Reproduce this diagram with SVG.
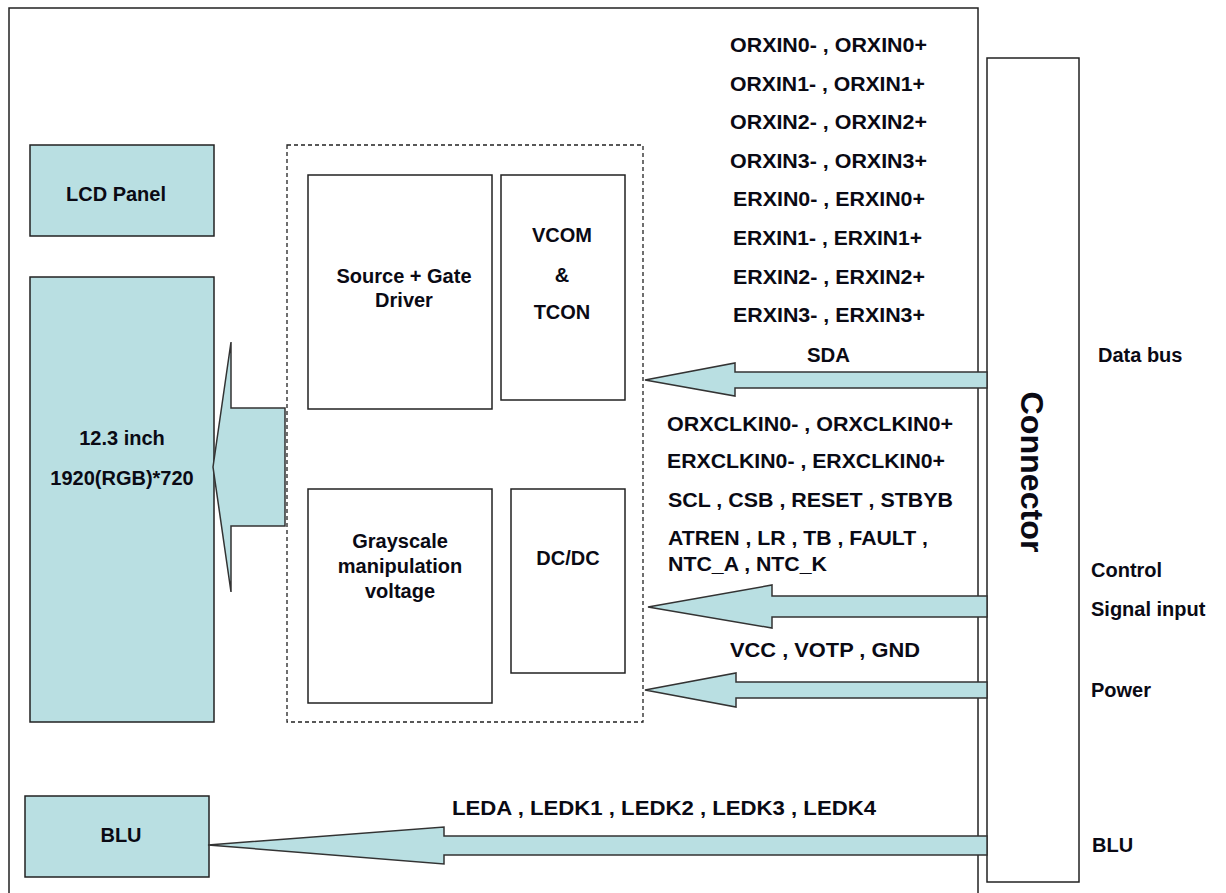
<svg xmlns="http://www.w3.org/2000/svg" width="1226" height="893" viewBox="0 0 1226 893">
<style>
.blk{fill:#b9dfe2;stroke:#222;stroke-width:1.5}
.box{fill:#fff;stroke:#222;stroke-width:1.5}
.arr{fill:#b9dfe2;stroke:#333;stroke-width:1.5;stroke-linejoin:miter}
text{font-family:"Liberation Sans",Arial,sans-serif;font-weight:bold;fill:#0a0a14}
.n{font-size:20px;text-anchor:middle}
.s{font-size:20px}
</style>
<rect x="9" y="8" width="969" height="900" fill="#fff" stroke="#222" stroke-width="1.5"/>
<g id="lcd-panel"><rect class="blk" x="30" y="145" width="184" height="91"/><text class="n" x="116" y="201">LCD Panel</text></g>
<g id="display"><rect class="blk" x="30" y="277" width="184" height="445"/><text class="n" x="122" y="445">12.3  inch</text><text class="n" x="122" y="485">1920(RGB)*720</text></g>
<g id="driver-group"><rect x="287" y="145" width="356" height="577" fill="none" stroke="#222" stroke-width="1.3" stroke-dasharray="4,3"/></g>
<g id="source-gate"><rect class="box" x="308" y="175" width="184" height="234"/><text class="n" x="404" y="283">Source + Gate</text><text class="n" x="404" y="307">Driver</text></g>
<g id="vcom-tcon"><rect class="box" x="501" y="175" width="124" height="225"/><text class="n" x="562" y="242">VCOM</text><text class="n" x="562" y="282">&amp;</text><text class="n" x="562" y="319">TCON</text></g>
<g id="grayscale"><rect class="box" x="308" y="489" width="184" height="214"/><text class="n" x="400" y="548">Grayscale</text><text class="n" x="400" y="573">manipulation</text><text class="n" x="400" y="598">voltage</text></g>
<g id="dcdc"><rect class="box" x="511" y="489" width="114" height="184"/><text class="n" x="568" y="565">DC/DC</text></g>
<g id="blu"><rect class="blk" x="25" y="796" width="184" height="81"/><text class="n" x="121" y="842">BLU</text></g>
<g id="connector"><rect class="box" x="987" y="58" width="92" height="824"/><text font-size="31" text-anchor="middle" transform="translate(1021,472) rotate(90)" textLength="161" lengthAdjust="spacingAndGlyphs">Connector</text></g>
<g id="connectors">
<polygon class="arr" points="213,467 231,342 231,408 285,408 285,526 231,526 231,592"/>
<polygon class="arr" points="645,380 735,363 735,372 987,372 987,388 735,388 735,396"/>
<polygon class="arr" points="648,607 772,585 772,596 987,596 987,617 772,617 772,628"/>
<polygon class="arr" points="645,690 736,673 736,682 987,682 987,698 736,698 736,707"/>
<polygon class="arr" points="208,845 444,827 444,836 987,836 987,855 444,855 444,864"/>
</g>
<g id="labels">
<text class="s" x="730" y="52" textLength="197" lengthAdjust="spacingAndGlyphs">ORXIN0- , ORXIN0+</text>
<text class="s" x="730" y="91" textLength="195" lengthAdjust="spacingAndGlyphs">ORXIN1- , ORXIN1+</text>
<text class="s" x="730" y="129" textLength="197" lengthAdjust="spacingAndGlyphs">ORXIN2- , ORXIN2+</text>
<text class="s" x="730" y="168" textLength="197" lengthAdjust="spacingAndGlyphs">ORXIN3- , ORXIN3+</text>
<text class="s" x="733" y="206" textLength="192" lengthAdjust="spacingAndGlyphs">ERXIN0- , ERXIN0+</text>
<text class="s" x="733" y="245" textLength="189" lengthAdjust="spacingAndGlyphs">ERXIN1- , ERXIN1+</text>
<text class="s" x="733" y="284" textLength="192" lengthAdjust="spacingAndGlyphs">ERXIN2- , ERXIN2+</text>
<text class="s" x="733" y="322" textLength="192" lengthAdjust="spacingAndGlyphs">ERXIN3- , ERXIN3+</text>
<text class="s" x="807" y="362" textLength="43" lengthAdjust="spacingAndGlyphs">SDA</text>
<text class="s" x="667" y="431" textLength="286" lengthAdjust="spacingAndGlyphs">ORXCLKIN0- , ORXCLKIN0+</text>
<text class="s" x="667" y="468" textLength="278" lengthAdjust="spacingAndGlyphs">ERXCLKIN0- , ERXCLKIN0+</text>
<text class="s" x="668" y="507" textLength="285" lengthAdjust="spacingAndGlyphs">SCL , CSB , RESET , STBYB</text>
<text class="s" x="668" y="545" textLength="260" lengthAdjust="spacingAndGlyphs">ATREN , LR , TB , FAULT ,</text>
<text class="s" x="668" y="571" textLength="159" lengthAdjust="spacingAndGlyphs">NTC_A , NTC_K</text>
<text class="s" x="730" y="657" textLength="190" lengthAdjust="spacingAndGlyphs">VCC  , VOTP , GND</text>
<text class="s" x="452" y="815" textLength="424" lengthAdjust="spacingAndGlyphs">LEDA , LEDK1 , LEDK2 , LEDK3 , LEDK4</text>
<text class="s" x="1098" y="362">Data bus</text>
<text class="s" x="1091" y="577">Control</text>
<text class="s" x="1091" y="616">Signal input</text>
<text class="s" x="1091" y="697">Power</text>
<text class="s" x="1092" y="852">BLU</text>
</g>
</svg>
